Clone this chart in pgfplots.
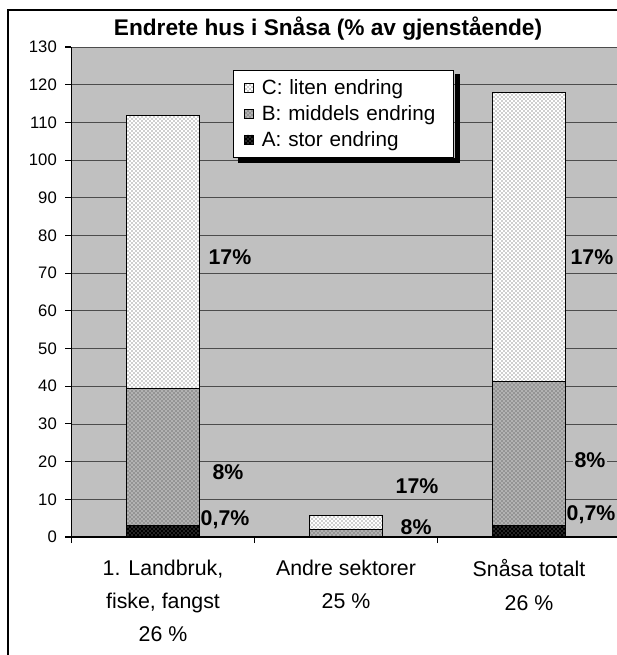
\documentclass[border=0pt]{standalone}
\usepackage{pgfplots}
\pgfplotsset{compat=1.18}
\usepackage{fontspec}
\setmainfont{Liberation Sans}
\usetikzlibrary{patterns}
\definecolor{plotbg}{RGB}{192,192,192}
\definecolor{bgray}{RGB}{178,178,178}
\begin{document}
\begin{tikzpicture}
\useasboundingbox (-53.625pt,-88.5pt) rectangle (408.375pt,402.75pt);
\draw[black, line width=0.8pt] (-47.6pt,-100pt) -- (-47.6pt,395.25pt) -- (450pt,395.25pt);
\node[font=\fontsize{17}{20}\bfseries\selectfont] at (192.4pt,381pt) {Endrete hus i Snåsa (\% av gjenstående)};
\begin{axis}[
  at={(0pt,0pt)}, anchor=south west,
  width=411.75pt, height=367.5pt, scale only axis,
  xmin=-0.5, xmax=2.5, ymin=0, ymax=130,
  ybar stacked, bar width=0.394,
  axis background/.style={fill=plotbg},
  axis x line*=bottom, axis y line*=left,
  axis line style={black, line width=0.8pt},
  ytick={0,10,...,130},
  ymajorgrids, grid style={black!70, line width=0.6pt},
  tick align=outside, major tick length=4.5pt, minor tick length=4.5pt,
  tick style={black, line width=0.8pt},
  xtick={0,1,2},
  xticklabels={{1. Landbruk,\\fiske, fangst\\26 \%},{Andre sektorer\\25 \%},{Snåsa totalt\\26 \%}},
  major x tick style={draw=none},
  minor xtick={-0.5,0.5,1.5,2.5},
  /pgf/number format/assume math mode=true,
  yticklabel style={font=\fontsize{12.5}{14}\selectfont, xshift=-3pt},
  xticklabel style={font=\fontsize{16}{25}\selectfont, align=center, yshift=-9pt},
  reverse legend,
  legend cell align=left,
  legend image code/.code={\draw[#1, line width=0.6pt] (0pt,-3.4pt) rectangle (6.8pt,3.4pt);},
  legend style={name=leg, at={(0.294,0.953)}, anchor=north west, draw=black, line width=0.6pt,
    fill=white, font=\fontsize{15.5}{18}\selectfont, inner xsep=8pt, inner ysep=5pt,
    row sep=2.5pt, column sep=4pt, /tikz/column 2/.style={text width=134pt}},
]
\addplot[draw=black, line width=0.8pt, fill=black, postaction={pattern=crosshatch dots, pattern color=gray!70}]
  coordinates {(0,3) (1,0) (2,3)};
\addplot[draw=black, line width=0.8pt, fill=bgray, postaction={pattern=crosshatch dots, pattern color=black!80}]
  coordinates {(0,36.3) (1,1.9) (2,38.2)};
\addplot[draw=black, line width=0.8pt, fill=white, postaction={pattern=crosshatch dots, pattern color=black!80}]
  coordinates {(0,72.6) (1,3.8) (2,76.8)};
\legend{A: stor endring, B: middels endring, C: liten endring}
\tikzset{lbl/.style={font=\fontsize{16}{19}\bfseries\selectfont, fill=plotbg, inner sep=1pt}}
\node[lbl] at (axis cs:0.366,74.3) {17\%};
\node[lbl] at (axis cs:0.355,17.2) {8\%};
\node[lbl] at (axis cs:0.339,4.5) {0,7\%};
\node[lbl] at (axis cs:1.388,13.5) {17\%};
\node[lbl] at (axis cs:1.383,2.7) {8\%};
\node[lbl] at (axis cs:2.344,74.3) {17\%};
\node[lbl] at (axis cs:2.333,20.4) {8\%};
\node[lbl] at (axis cs:2.339,5.8) {0,7\%};
\end{axis}
\fill[black] ([shift={(0.3pt,-3pt)}]leg.north east) rectangle ([shift={(4pt,-4pt)}]leg.south east);
\fill[black] ([shift={(4pt,-0.3pt)}]leg.south west) rectangle ([shift={(4pt,-4pt)}]leg.south east);
\end{tikzpicture}
\end{document}
